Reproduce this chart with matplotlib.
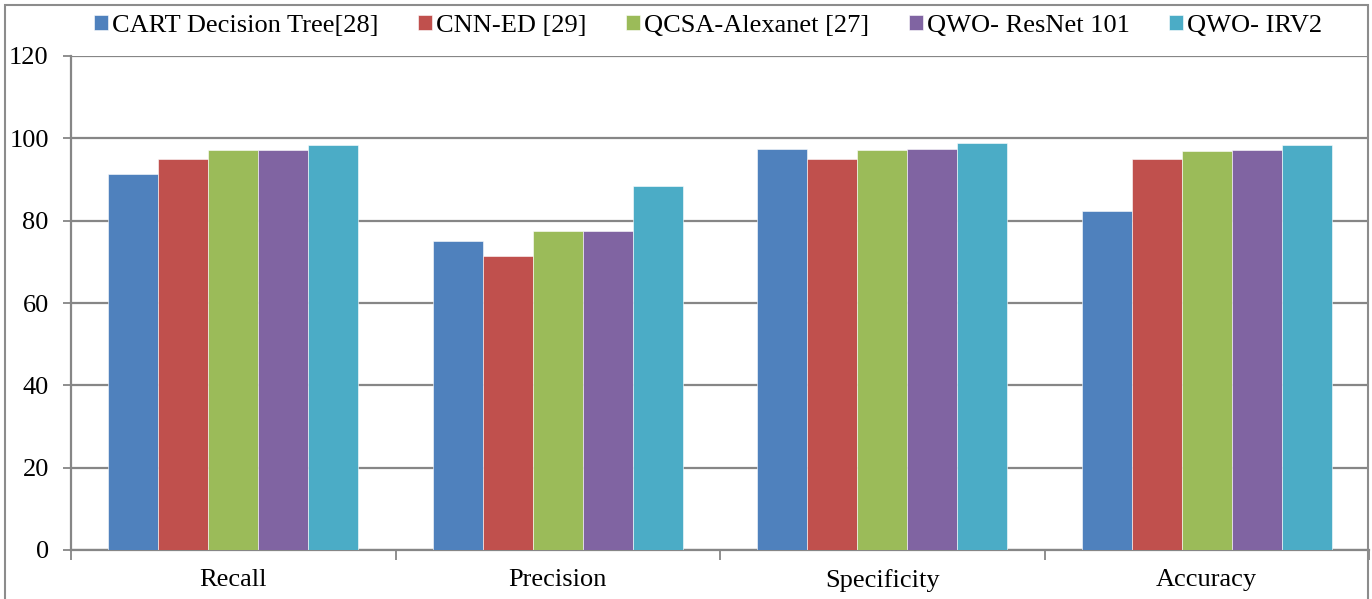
import numpy as np
import matplotlib.pyplot as plt
from matplotlib.patches import Rectangle

plt.rcParams['font.family'] = ['Liberation Serif', 'DejaVu Serif']

# Chart data
metrics = ['Recall', 'Precision', 'Specificity', 'Accuracy']
models = ['CART Decision Tree[28]', 'CNN-ED [29]', 'QCSA-Alexanet [27]',
          'QWO- ResNet 101', 'QWO- IRV2']
cart = [91.3, 75.0, 97.3, 82.4]
cnn_ed = [95.0, 71.5, 94.9, 95.0]
qcsa = [97.2, 77.4, 97.2, 96.9]
qwo_resnet = [97.1, 77.6, 97.4, 97.1]
qwo_irv2 = [98.5, 88.5, 98.9, 98.4]
series = [cart, cnn_ed, qcsa, qwo_resnet, qwo_irv2]
colors = ['#4F81BD', '#C0504D', '#9BBB59', '#8064A2', '#4BACC6']
yticks = [0, 20, 40, 60, 80, 100, 120]

W, H = 1372, 599
fig = plt.figure(figsize=(W / 100, H / 100), dpi=100)
ax = fig.add_axes([71 / W, (H - 550) / H, (1369 - 71) / W, (550 - 56) / H])

x = np.arange(len(metrics))
bw = 0.154
for i, (vals, name, c) in enumerate(zip(series, models, colors)):
    ax.bar(x + (i - 2) * bw, vals, width=bw, color=c, label=name,
           edgecolor='white', linewidth=0.4, zorder=3)

grid_c = '#868686'
fs = 19
ax.set_ylim(0, 120)
ax.set_xlim(-0.5, len(metrics) - 0.5)
ax.set_yticks(yticks)
ax.yaxis.grid(True, color=grid_c, linewidth=1.6, zorder=0)
ax.set_xticks(x)
ax.set_xticklabels(metrics)
ax.set_xticks(np.arange(len(metrics) + 1) - 0.5, minor=True)
ax.tick_params(axis='x', which='major', length=0, pad=14, labelsize=fs)
ax.tick_params(axis='x', which='minor', length=7, width=1.3, color=grid_c)
ax.tick_params(axis='y', length=6, width=1.3, color=grid_c, labelsize=fs, pad=10)
for s in ['top', 'right']:
    ax.spines[s].set_visible(False)
for s in ['left', 'bottom']:
    ax.spines[s].set_color(grid_c)
    ax.spines[s].set_linewidth(1.6)

leg = fig.legend(loc='center', bbox_to_anchor=(708 / W, 1 - 26 / H), ncol=5,
                 frameon=False, fontsize=fs, handlelength=0.53, handleheight=0.53,
                 handletextpad=0.15, columnspacing=1.5)

# outer chart border
fig.patches.append(Rectangle((5 / W, -0.1), (1368 - 5) / W, 1.1 - 5 / H,
                             transform=fig.transFigure, fill=False,
                             edgecolor='#8C8C8C', linewidth=1.5))

fig.savefig('out.png', dpi=100)
